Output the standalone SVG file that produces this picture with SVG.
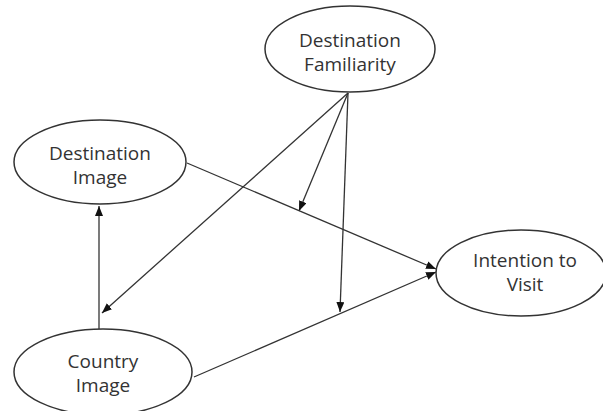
<svg xmlns="http://www.w3.org/2000/svg" width="603" height="411" viewBox="0 0 603 411">
<style>
.node ellipse{fill:#fff;stroke:#333;stroke-width:1.5}
.node text{font-family:"Open Sans","Noto Sans",sans-serif;font-size:19px;fill:#333;text-anchor:middle}
.edge{stroke:#333;stroke-width:1.3;fill:none}
</style>
<defs>
<marker id="arr" markerUnits="userSpaceOnUse" markerWidth="11" markerHeight="9" refX="10" refY="4" orient="auto">
<path d="M0,0 L10,4 L0,8 z" fill="#111"/>
</marker>
</defs>
<rect width="603" height="411" fill="#fff"/>
<g id="connectors">
<line class="edge" x1="99" y1="329" x2="99" y2="206" marker-end="url(#arr)"/>
<line class="edge" x1="348" y1="93" x2="102" y2="313" marker-end="url(#arr)"/>
<line class="edge" x1="348" y1="93" x2="299" y2="211" marker-end="url(#arr)"/>
<line class="edge" x1="348" y1="93" x2="340" y2="312" marker-end="url(#arr)"/>
<line class="edge" x1="187" y1="163" x2="436" y2="269" marker-end="url(#arr)"/>
<line class="edge" x1="194" y1="377" x2="436" y2="272" marker-end="url(#arr)"/>
</g>
<g id="destination-familiarity" class="node">
<ellipse cx="350" cy="49" rx="85" ry="43"/>
<text x="350" y="47">Destination</text>
<text x="350" y="71">Familiarity</text>
</g>
<g id="destination-image" class="node">
<ellipse cx="100" cy="162" rx="86" ry="42"/>
<text x="100" y="160">Destination</text>
<text x="100" y="184">Image</text>
</g>
<g id="intention-to-visit" class="node">
<ellipse cx="521" cy="273" rx="85" ry="43"/>
<text x="525" y="267">Intention to</text>
<text x="525" y="291">Visit</text>
</g>
<g id="country-image" class="node">
<ellipse cx="103" cy="372" rx="89" ry="43"/>
<text x="103" y="368">Country</text>
<text x="103" y="392">Image</text>
</g>
</svg>
